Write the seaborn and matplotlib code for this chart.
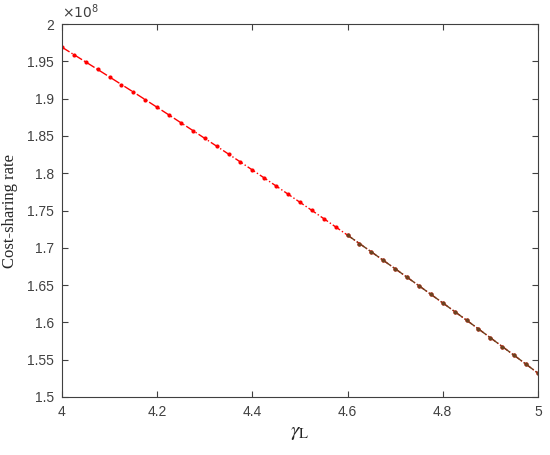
import numpy as np
import pandas as pd
import seaborn as sns
import matplotlib.pyplot as plt

# data (y in units of 1e8)
gamma_L = [4.000, 4.025, 4.050, 4.075, 4.100, 4.125, 4.150, 4.175, 4.200, 4.225,
           4.250, 4.275, 4.300, 4.325, 4.350, 4.375, 4.400, 4.425, 4.450, 4.475,
           4.500, 4.525, 4.550, 4.575, 4.600, 4.625, 4.650, 4.675, 4.700, 4.725,
           4.750, 4.775, 4.800, 4.825, 4.850, 4.875, 4.900, 4.925, 4.950, 4.975,
           5.000]
cost_sharing = [1.9690, 1.9591, 1.9492, 1.9392, 1.9291, 1.9190, 1.9089, 1.8987, 1.8884, 1.8781,
                1.8677, 1.8573, 1.8468, 1.8363, 1.8257, 1.8151, 1.8044, 1.7937, 1.7829, 1.7720,
                1.7611, 1.7502, 1.7392, 1.7281, 1.7170, 1.7058, 1.6946, 1.6833, 1.6720, 1.6606,
                1.6492, 1.6377, 1.6262, 1.6146, 1.6030, 1.5913, 1.5795, 1.5677, 1.5559, 1.5440,
                1.5320]
scale = 1e8
split_at = 4.6  # second segment drawn in dark brown

x_ticks = [4, 4.2, 4.4, 4.6, 4.8, 5]
x_tick_labels = ["4", "4.2", "4.4", "4.6", "4.8", "5"]
y_ticks = [1.5, 1.55, 1.6, 1.65, 1.7, 1.75, 1.8, 1.85, 1.9, 1.95, 2.0]
y_tick_labels = ["1.5", "1.55", "1.6", "1.65", "1.7", "1.75", "1.8", "1.85", "1.9", "1.95", "2"]

df = pd.DataFrame({"gamma": gamma_L, "rate": np.array(cost_sharing) * scale})
df2 = df[df["gamma"] >= split_at - 1e-9]

sns.set_style("ticks")
plt.rcParams["font.family"] = ["Liberation Sans", "DejaVu Sans"]
plt.rcParams["mathtext.fontset"] = "stix"

fig = plt.figure(figsize=(5.5, 4.55), dpi=100)
ax = fig.add_axes([0.1127, 0.1275, 0.8653, 0.8195])

sns.lineplot(data=df, x="gamma", y="rate", color="#ff0000", linestyle="-.",
             linewidth=1.0, marker="o", markersize=3, markeredgewidth=0, ax=ax)
sns.lineplot(data=df2, x="gamma", y="rate", color="#6b4420", linestyle="-.",
             linewidth=1.0, marker="o", markersize=3, markeredgewidth=0, ax=ax)

ax.set_xlim(4, 5)
ax.set_ylim(1.5 * scale, 2.0 * scale)
ax.set_xticks(x_ticks)
ax.set_xticklabels(x_tick_labels)
ax.set_yticks([v * scale for v in y_ticks])
ax.set_yticklabels(y_tick_labels)

ax.tick_params(direction="in", top=True, right=True, length=4, width=0.8,
               labelsize=10, colors="#404040", pad=6)
for side in ["top", "right", "bottom", "left"]:
    ax.spines[side].set_visible(True)
    ax.spines[side].set_color("#404040")
    ax.spines[side].set_linewidth(0.8)

ax.set_xlabel(r"$\gamma_{\rm L}$", fontsize=15, labelpad=3)
ax.set_ylabel("Cost-sharing rate", fontsize=12, family="Liberation Serif", labelpad=6)
ax.text(0.0, 1.008, r"$\times10^{8}$", transform=ax.transAxes, fontsize=10,
        color="#404040", ha="left", va="bottom", family="Liberation Sans",
        math_fontfamily="dejavusans")

fig.savefig("out.png", dpi=100)
